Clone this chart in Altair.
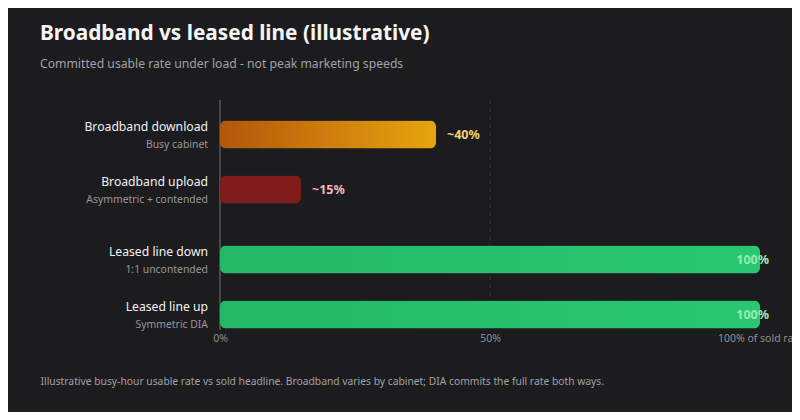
import altair as alt
import pandas as pd

# chart values
rows = ["Broadband download", "Broadband upload", "Leased line down", "Leased line up"]
subs = ["Busy cabinet", "Asymmetric + contended", "1:1 uncontended", "Symmetric DIA"]
groups = ["Broadband", "Broadband", "Leased line", "Leased line"]
direction = ["down", "up", "down", "up"]
values = [40, 15, 100, 100]
labels = ["~40%", "~15%", "100%", "100%"]
kinds = ["down", "up", "leased", "leased"]

df = pd.DataFrame({"row": rows, "sub": subs, "group": groups, "dir": direction,
                   "value": values, "label": labels, "kind": kinds})

FONT = "Noto Sans"
BG = "#1c1c1e"

# two groups, two rows in each
base = alt.Chart(df).encode(
    y=alt.Y("group:N", sort=["Broadband", "Leased line"], axis=None,
            scale=alt.Scale(paddingInner=0.336, paddingOuter=0.088, align=0.932)),
    yOffset=alt.YOffset("dir:N", sort=["down", "up"],
                        scale=alt.Scale(paddingInner=0.4909, paddingOuter=0)),
)

x_axis = alt.Axis(
    values=[0, 50, 100], grid=False, domain=False, ticks=False, labelFlush=False,
    labelExpr="datum.value == 100 ? '100% of sold rate' : datum.value + '%'",
    labelColor="#8e8e93", labelFontSize=10.5, labelFont=FONT, labelPadding=3,
    title="Illustrative busy-hour usable rate vs sold headline. Broadband varies by cabinet; DIA commits the full rate both ways.",
    titleColor="#a1a1a6", titleFontSize=10.3, titleFont=FONT, titleFontWeight="normal",
    titleX=-180, titleY=51, titleAlign="left", titleBaseline="middle",
)
xs = alt.Scale(domain=[0, 100], nice=False)

# dashed grid at 50% and axis line at 0
grid = alt.Chart(pd.DataFrame({"v": [50]})).mark_rule(
    color="#333336", strokeDash=[4, 4], strokeWidth=1
).encode(x=alt.X("v:Q", scale=xs, axis=x_axis))
zero = alt.Chart(pd.DataFrame({"v": [0]})).mark_rule(
    color="#48484a", strokeWidth=2
).encode(x=alt.X("v:Q", scale=xs))

def grad(c1, c2):
    return alt.Gradient(gradient="linear", x1=0, x2=1, y1=0, y2=0,
                        stops=[alt.GradientStop(offset=0, color=c1),
                               alt.GradientStop(offset=1, color=c2)])

bar_x = alt.X("value:Q", scale=xs)
down = base.mark_bar(cornerRadius=6, fill=grad("#b3560b", "#e6a50e")).encode(
    x=bar_x).transform_filter("datum.kind == 'down'")
up = base.mark_bar(cornerRadius=6, fill="#7f1d1d").encode(
    x=bar_x).transform_filter("datum.kind == 'up'")
leased = base.mark_bar(cornerRadius=6, fill=grad("#22b866", "#29c870")).encode(
    x=bar_x).transform_filter("datum.kind == 'leased'")

lab_small = base.mark_text(align="left", dx=11, font=FONT, fontSize=12.5,
                           fontWeight="bold").encode(
    x=bar_x, text="label:N",
    color=alt.Color("kind:N", scale=alt.Scale(domain=["down", "up"],
                                              range=["#f3cf7f", "#f0b8b8"]), legend=None),
).transform_filter("datum.value < 90")
lab_full = base.mark_text(align="right", dx=9, font=FONT, fontSize=12.5,
                          fontWeight="bold", color="#98ecb6").encode(
    x=bar_x, text="label:N").transform_filter("datum.value >= 90")

names = base.mark_text(align="right", dy=-8, font=FONT, fontSize=12.2,
                       color="#f2f2f7").encode(x=alt.value(-12), text="row:N")
notes = base.mark_text(align="right", dy=10, font=FONT, fontSize=10.4,
                       color="#98989d").encode(x=alt.value(-12), text="sub:N")

chart = alt.layer(grid, zero, down, up, leased, lab_small, lab_full, names, notes).properties(
    width=540, height=230,
    autosize=alt.AutoSizeParams(type="none"),
    padding={"left": 212, "top": 92, "right": 32, "bottom": 82},
    background=BG,
    title=alt.TitleParams(
        "Broadband vs leased line (illustrative)",
        subtitle="Committed usable rate under load - not peak marketing speeds",
        anchor="start", frame="group", dx=-180, offset=28,
        font=FONT, fontSize=20.8, fontWeight="bold", color="#f5f5f7",
        subtitleFont=FONT, subtitleFontSize=12.2, subtitleColor="#a1a1a6",
        subtitlePadding=13,
    ),
).configure_view(stroke=None)

chart.save("out.html", embed_options={"renderer": "svg", "actions": False})
